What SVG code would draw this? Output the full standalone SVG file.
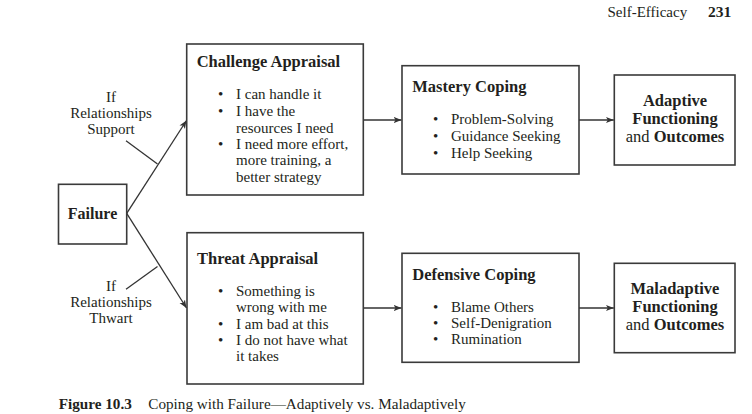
<svg xmlns="http://www.w3.org/2000/svg" width="752" height="414" viewBox="0 0 752 414">
<defs>
<style>
text{font-family:"Liberation Serif","Times New Roman",serif;fill:#231f20}
.t{font-size:16.5px;font-weight:bold}
.b{font-size:15px}
.c{font-size:16.5px;font-weight:bold;text-anchor:middle}
.n{font-weight:normal}
.l{font-size:15px;text-anchor:middle}
.box{fill:#fff;stroke:#3a3a3a;stroke-width:1.6}
.ln{fill:none;stroke:#333;stroke-width:1.3}
</style>
<marker id="ah" viewBox="0 0 10 10" refX="10" refY="5" markerWidth="8" markerHeight="8" markerUnits="userSpaceOnUse" orient="auto">
<path d="M0,1 L10,5 L0,9 L2.5,5 Z" fill="#333"/>
</marker>
</defs>
<rect width="752" height="414" fill="#fff"/>
<text x="607.5" y="17" style="font-size:15px">Self-Efficacy</text>
<text x="708" y="17" style="font-size:15.5px;font-weight:bold">231</text>

<g id="connectors">
<line class="ln" x1="126.7" y1="213.3" x2="186.5" y2="120.5" marker-end="url(#ah)"/>
<line class="ln" x1="126.7" y1="213.3" x2="186.5" y2="308" marker-end="url(#ah)"/>
<line class="ln" x1="126" y1="140.7" x2="157.5" y2="164"/>
<line class="ln" x1="126" y1="289.3" x2="157.5" y2="266.5"/>
<line class="ln" x1="363.3" y1="120" x2="401.5" y2="120" marker-end="url(#ah)"/>
<line class="ln" x1="579" y1="120" x2="613.8" y2="120" marker-end="url(#ah)"/>
<line class="ln" x1="363.3" y1="308" x2="401.5" y2="308" marker-end="url(#ah)"/>
<line class="ln" x1="579" y1="308" x2="613.8" y2="308" marker-end="url(#ah)"/>
</g>

<g id="label-support">
<text class="l" x="111" y="101.5">If</text>
<text class="l" x="111" y="117.5">Relationships</text>
<text class="l" x="111" y="133.5">Support</text>
</g>
<g id="label-thwart">
<text class="l" x="111" y="291">If</text>
<text class="l" x="111" y="307">Relationships</text>
<text class="l" x="111" y="323">Thwart</text>
</g>

<g id="failure">
<rect class="box" x="58.5" y="184.3" width="68.2" height="59.7"/>
<text x="92.5" y="218.5" class="c" style="font-size:16px">Failure</text>
</g>

<g id="challenge">
<rect class="box" x="186.7" y="44" width="176.6" height="151"/>
<text class="t" x="196.7" y="67">Challenge Appraisal</text>
<text class="b" x="218" y="99.3">•</text>
<text class="b" x="236" y="99.3">I can handle it</text>
<text class="b" x="218" y="116">•</text>
<text class="b" x="236" y="116">I have the</text>
<text class="b" x="236" y="132.7">resources I need</text>
<text class="b" x="218" y="149">•</text>
<text class="b" x="236" y="149">I need more effort,</text>
<text class="b" x="236" y="165.3">more training, a</text>
<text class="b" x="236" y="181.5">better strategy</text>
</g>

<g id="threat">
<rect class="box" x="187" y="232.7" width="176.3" height="151.3"/>
<text class="t" x="197" y="263.7">Threat Appraisal</text>
<text class="b" x="218" y="296">•</text>
<text class="b" x="236" y="296">Something is</text>
<text class="b" x="236" y="312.3">wrong with me</text>
<text class="b" x="218" y="328.7">•</text>
<text class="b" x="236" y="328.7">I am bad at this</text>
<text class="b" x="218" y="345">•</text>
<text class="b" x="236" y="345">I do not have what</text>
<text class="b" x="236" y="361.3">it takes</text>
</g>

<g id="mastery">
<rect class="box" x="402" y="65.7" width="177" height="108.3"/>
<text class="t" x="412.3" y="92">Mastery Coping</text>
<text class="b" x="433" y="124">•</text>
<text class="b" x="451" y="124">Problem-Solving</text>
<text class="b" x="433" y="140.7">•</text>
<text class="b" x="451" y="140.7">Guidance Seeking</text>
<text class="b" x="433" y="157.5">•</text>
<text class="b" x="451" y="157.5">Help Seeking</text>
</g>

<g id="defensive">
<rect class="box" x="402" y="253.3" width="177" height="109"/>
<text class="t" x="412.3" y="279.5">Defensive Coping</text>
<text class="b" x="433" y="311.7">•</text>
<text class="b" x="451" y="311.7">Blame Others</text>
<text class="b" x="433" y="327.7">•</text>
<text class="b" x="451" y="327.7">Self-Denigration</text>
<text class="b" x="433" y="344.3">•</text>
<text class="b" x="451" y="344.3">Rumination</text>
</g>

<g id="adaptive">
<rect class="box" x="614.3" y="75" width="120.7" height="90"/>
<text class="c" x="675" y="106">Adaptive</text>
<text class="c" x="675" y="124">Functioning</text>
<text class="c" x="675" y="142"><tspan class="n">and</tspan> Outcomes</text>
</g>

<g id="maladaptive">
<rect class="box" x="614.3" y="263.3" width="120.7" height="89.4"/>
<text class="c" x="675" y="294">Maladaptive</text>
<text class="c" x="675" y="312">Functioning</text>
<text class="c" x="675" y="330"><tspan class="n">and</tspan> Outcomes</text>
</g>

<text x="58.7" y="409" style="font-size:15.2px;font-weight:bold">Figure 10.3</text>
<text x="148.3" y="409" style="font-size:15.2px">Coping with Failure—Adaptively vs. Maladaptively</text>
</svg>
